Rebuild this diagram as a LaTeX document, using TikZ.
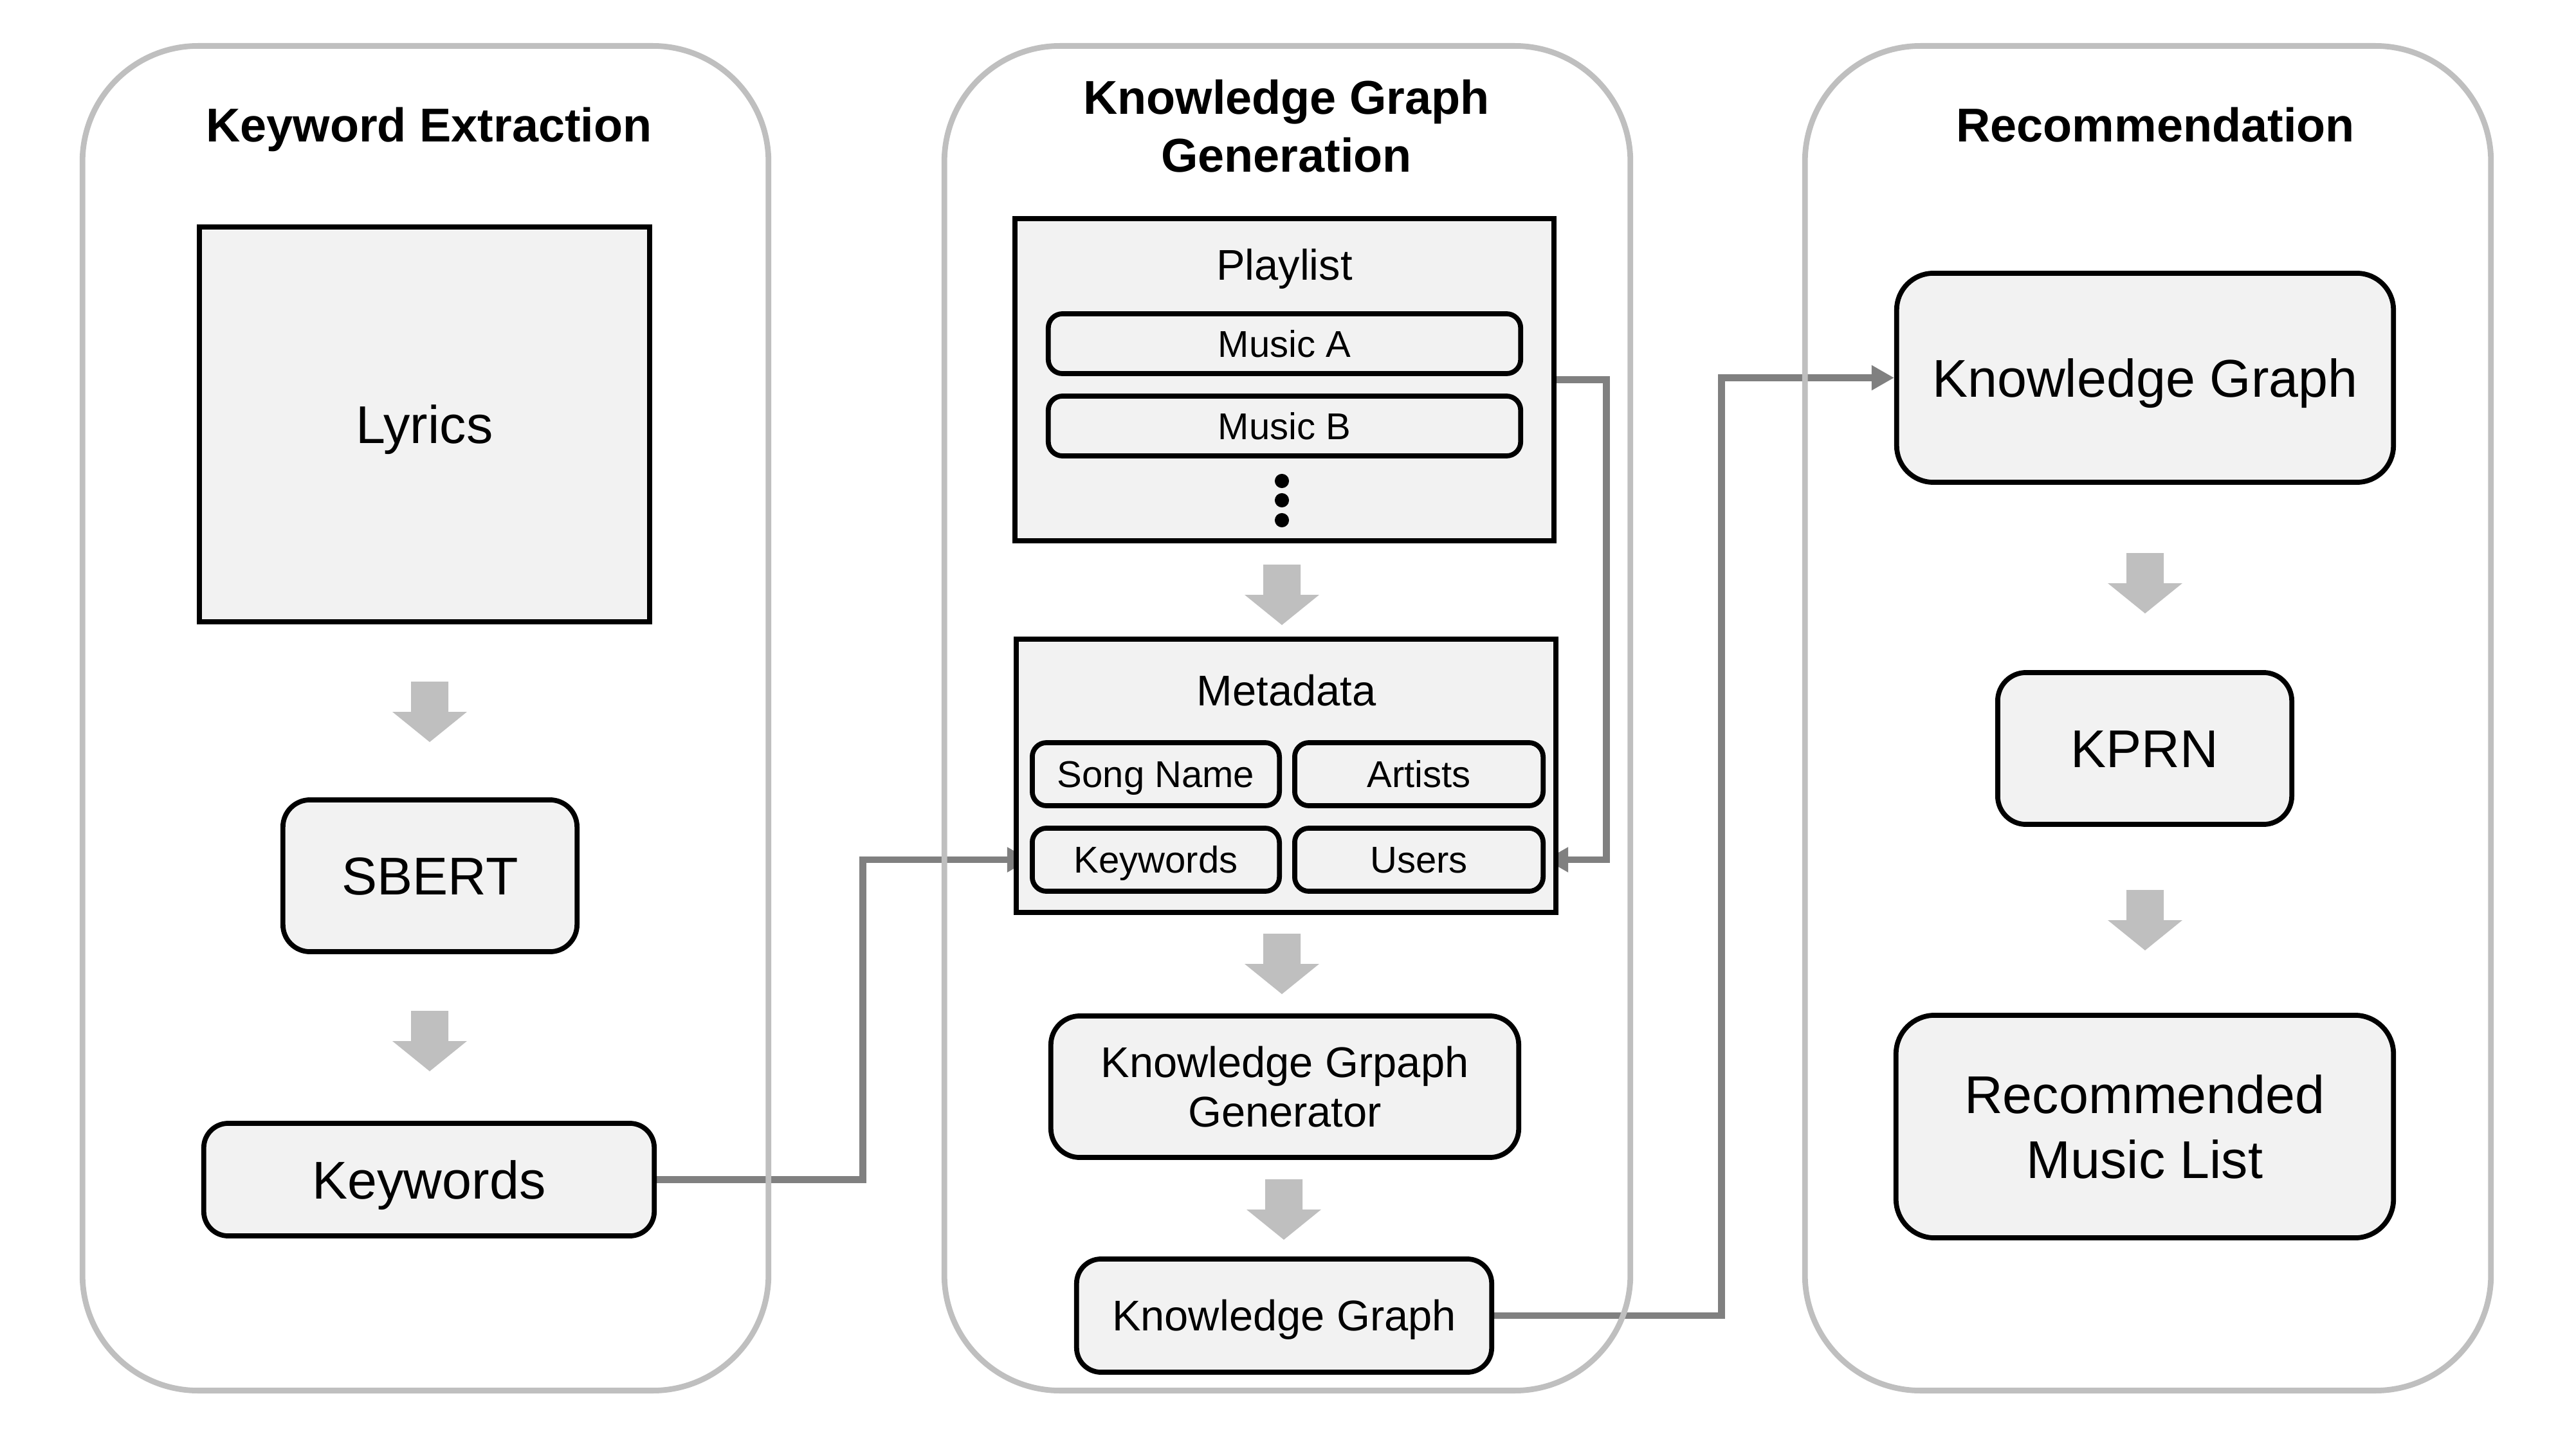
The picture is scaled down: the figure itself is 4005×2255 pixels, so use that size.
\documentclass[tikz,border=0pt]{standalone}
\usepackage{fontspec}
\setmainfont{Liberation Sans}
\usetikzlibrary{arrows.meta}
\definecolor{panelgray}{HTML}{BFBFBF}
\definecolor{boxfill}{HTML}{F2F2F2}
\definecolor{conngray}{HTML}{808080}
\definecolor{blockgray}{HTML}{BFBFBF}
\pgfdeclarelayer{background}
\pgfsetlayers{background,main}
\tikzset{
  panel/.style={draw=panelgray,line width=2.5pt,rounded corners=1.8cm,inner sep=0pt,
    minimum width=10.66cm,minimum height=20.9cm},
  sqbox/.style={draw=black,fill=boxfill,line width=2.2pt,inner sep=0pt,align=center},
  rbox/.style={sqbox,rounded corners=#1},
  conn/.style={draw=conngray,line width=3.1pt,-{Triangle[length=10pt,width=10.5pt]}},
  titletxt/.style={font=\fontsize{21}{25.6}\selectfont\bfseries,align=center,inner sep=0pt},
  bigtxt/.style={font=\fontsize{23.5}{28.7}\selectfont},
  bigone/.style={bigtxt,text height=21.8pt,text depth=5pt},
  medtxt/.style={font=\fontsize{19}{21.9}\selectfont},
  medone/.style={medtxt,text height=17.6pt,text depth=4pt},
  smallone/.style={font=\fontsize{16.5}{19}\selectfont,text height=15.3pt,text depth=3.5pt},
  dotnode/.style={circle,fill=black,inner sep=0pt,minimum size=6.3pt},
  blockarrow/.pic={\fill[blockgray] (-29,-47) -- (29,-47) -- (29,0) -- (58,0) -- (0,47) -- (-58,0) -- (-29,0) -- cycle;}
}
\begin{document}
\begin{tikzpicture}[x=0.01cm,y=-0.01cm]
\useasboundingbox (0,0) rectangle (4005,2255);

% panels
\node[panel] (p1) at (661.5,1117) {};
\node[panel] (p2) at (2001.5,1117) {};
\node[panel] (p3) at (3339.5,1117) {};

% titles
\node[titletxt,anchor=base] (t1) at (667,221) {Keyword Extraction};
\node[titletxt] (t2) at (2000,196) {Knowledge Graph\\Generation};
\node[titletxt,anchor=base] (t3) at (3351,221) {Recommendation};

% panel 1
\node[sqbox,bigone,minimum width=7.00cm,minimum height=6.13cm] (lyrics) at (660,660) {Lyrics};
\node[rbox=0.42cm,bigone,minimum width=4.57cm,minimum height=2.36cm] (sbert) at (668.5,1362) {SBERT};
\node[rbox=0.38cm,bigone,minimum width=7.00cm,minimum height=1.75cm] (kw1) at (667,1834.5) {Keywords};
\pic at (668,1107) {blockarrow};
\pic at (668,1619) {blockarrow};

% panel 2
\node[sqbox,minimum width=8.38cm,minimum height=5.01cm] (playlist) at (1997,590.5) {};
\node[medtxt,anchor=base,inner sep=0pt] (playlistlbl) at (1997,436) {Playlist};
\node[rbox=0.22cm,smallone,minimum width=7.34cm,minimum height=0.93cm] (musica) at (1997,534.5) {Music A};
\node[rbox=0.22cm,smallone,minimum width=7.34cm,minimum height=0.93cm] (musicb) at (1997,662.5) {Music B};
\node[dotnode] (dot1) at (1993,748) {};
\node[dotnode] (dot2) at (1993,778) {};
\node[dotnode] (dot3) at (1993,809) {};
\pic at (1993,925) {blockarrow};

\node[sqbox,minimum width=8.39cm,minimum height=4.25cm] (metadata) at (1999.5,1206.5) {};
\node[medtxt,anchor=base,inner sep=0pt] (metadatalbl) at (2000,1097) {Metadata};
\node[rbox=0.22cm,smallone,minimum width=3.84cm,minimum height=0.98cm] (songname) at (1797,1204) {Song Name};
\node[rbox=0.22cm,smallone,minimum width=3.86cm,minimum height=0.98cm] (artists) at (2206,1204) {Artists};
\node[rbox=0.22cm,smallone,minimum width=3.84cm,minimum height=0.98cm] (kw2) at (1797,1337) {Keywords};
\node[rbox=0.22cm,smallone,minimum width=3.86cm,minimum height=0.98cm] (users) at (2206,1337) {Users};
\pic at (1993,1499) {blockarrow};

\node[rbox=0.45cm,medtxt,minimum width=7.27cm,minimum height=2.20cm] (kggen) at (1997.5,1690) {Knowledge Grpaph\\Generator};
\pic at (1996,1881) {blockarrow};
\node[rbox=0.38cm,medone,minimum width=6.45cm,minimum height=1.76cm] (kg2) at (1996.5,2046) {Knowledge Graph};

% panel 3
\node[rbox=0.57cm,bigone,minimum width=7.72cm,minimum height=3.25cm] (kg3) at (3335,587.5) {Knowledge Graph};
\pic at (3335,907) {blockarrow};
\node[rbox=0.44cm,bigone,minimum width=4.57cm,minimum height=2.36cm] (kprn) at (3334.5,1164) {KPRN};
\pic at (3335,1431) {blockarrow};
\node[rbox=0.6cm,bigtxt,minimum width=7.73cm,minimum height=3.46cm] (rml) at (3334.5,1752) {Recommended\\Music List};

% connectors
\begin{pgfonlayer}{background}
\draw[conn] (kw1.east) -- ++(320,0) |- (kw2.west);
\draw[conn] (playlist.east) -- ++(77,0) |- (users.east);
\draw[conn] (kg2.east) -- ++(353,0) |- (kg3.west);
\end{pgfonlayer}
\end{tikzpicture}
\end{document}
